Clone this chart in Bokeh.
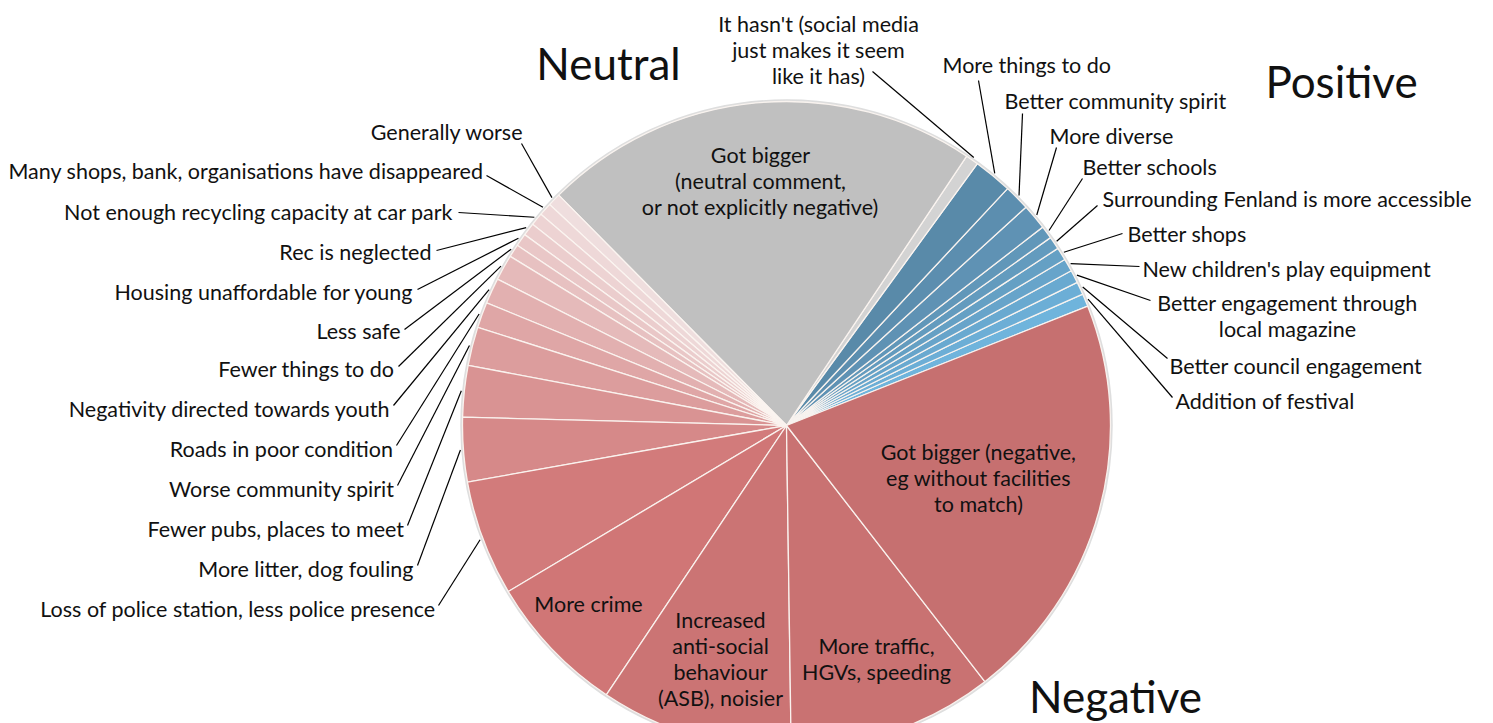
import numpy as np
from bokeh.plotting import figure
from bokeh.models import Range1d, ColumnDataSource
from bokeh.core.properties import value
from bokeh.embed import file_html
from bokeh.resources import INLINE

# ---------------- data (anticlockwise order from the blue/red boundary) ----------------
categories = [
    "Addition of festival",
    "Better council engagement",
    "Better engagement through\nlocal magazine",
    "New children's play equipment",
    "Better shops",
    "Surrounding Fenland is more accessible",
    "Better schools",
    "More diverse",
    "Better community spirit",
    "More things to do",
    "It hasn't (social media\njust makes it seem\nlike it has)",
    "Got bigger\n(neutral comment,\nor not explicitly negative)",
    "Generally worse",
    "Many shops, bank, organisations have disappeared",
    "Not enough recycling capacity at car park",
    "Rec is neglected",
    "Housing unaffordable for young",
    "Less safe",
    "Fewer things to do",
    "Negativity directed towards youth",
    "Roads in poor condition",
    "Worse community spirit",
    "Fewer pubs, places to meet",
    "More litter, dog fouling",
    "Loss of police station, less police presence",
    "More crime",
    "Increased\nanti-social\nbehaviour\n(ASB), noisier",
    "More traffic,\nHGVs, speeding",
    "Got bigger (negative,\neg without facilities\nto match)",
]
counts = [1, 1, 1, 1, 1, 1, 1, 2, 2, 3,
          1, 34,
          1, 1, 1, 1, 1, 1, 2, 2, 2, 3, 4, 5, 9, 11, 15, 16, 32]
sentiment = ["Positive"] * 10 + ["Neutral"] * 2 + ["Negative"] * 17
group_titles = ["Neutral", "Positive", "Negative"]

# ---------------- styles / layout ----------------
colors = [
    "#6fb4dc", "#6caed6", "#69a9d0", "#67a4ca", "#65a0c4",
    "#639bbe", "#6197b9", "#5f92b4", "#5c8eaf", "#598aa9",
    "#d3d3d3", "#c0c0c0",
    "#efdede", "#eed8d8", "#edd3d3", "#ebcdcd", "#e9c7c7", "#e7c1c1",
    "#e5baba", "#e2b0b0", "#dfa6a6", "#dc9d9d", "#d99393", "#d68989",
    "#d27b7b", "#d07676", "#cb7474", "#c97272", "#c67070",
]
CX, CY, R = 786, 425, 324          # pixel coords of the pie
START_DEG = 21.6                    # angle of the first slice boundary
FONT = value("Lato")
LBL = "21.5px"
LH = 1.0

# outside labels: text x, text y, align, leader start x, leader start y (pixel coords)
outside = {
    "Addition of festival": (1175, 400, "left", 1172, 397),
    "Better council engagement": (1169, 365, "left", 1167, 358),
    "Better engagement through\nlocal magazine": (1287, 315, "center", 1150, 300),
    "New children's play equipment": (1142, 268, "left", 1139, 266),
    "Better shops": (1127, 233, "left", 1122, 233),
    "Surrounding Fenland is more accessible": (1102, 198, "left", 1097, 205),
    "Better schools": (1082, 166, "left", 1082, 178),
    "More diverse": (1049, 135, "left", 1056, 147),
    "Better community spirit": (1004, 100, "left", 1022, 113),
    "More things to do": (942, 64, "left", 978, 80),
    "It hasn't (social media\njust makes it seem\nlike it has)": (818, 49, "center", 872, 71),
    "Generally worse": (523, 131, "right", 521, 143),
    "Many shops, bank, organisations have disappeared": (483, 170, "right", 486, 175),
    "Not enough recycling capacity at car park": (453, 211, "right", 458, 212),
    "Rec is neglected": (431, 251, "right", 436, 250),
    "Housing unaffordable for young": (413, 291, "right", 417, 289),
    "Less safe": (400, 330, "right", 404, 329),
    "Fewer things to do": (394, 368, "right", 398, 366),
    "Negativity directed towards youth": (390, 408, "right", 393, 405),
    "Roads in poor condition": (393, 448, "right", 396, 445),
    "Worse community spirit": (394, 488, "right", 397, 485),
    "Fewer pubs, places to meet": (404, 528, "right", 407, 525),
    "More litter, dog fouling": (413, 568, "right", 417, 565),
    "Loss of police station, less police presence": (435, 608, "right", 438, 605),
}
inside = {
    "Got bigger\n(neutral comment,\nor not explicitly negative)": (760, 180),
    "Got bigger (negative,\neg without facilities\nto match)": (978, 477),
    "More traffic,\nHGVs, speeding": (876, 658),
    "Increased\nanti-social\nbehaviour\n(ASB), noisier": (720, 658),
    "More crime": (588, 603),
}
titles_pos = {"Neutral": (608, 62), "Positive": (1341, 80), "Negative": (1115, 695)}

# ---------------- geometry from the data ----------------
total = sum(counts)
frac = np.array(counts, dtype=float) / total
ends = np.cumsum(frac) * 2 * np.pi + np.radians(START_DEG)
starts = ends - frac * 2 * np.pi
mids = (starts + ends) / 2

W, H = 1493, 723
p = figure(width=W, height=H, x_range=Range1d(0, W), y_range=Range1d(-H, 0),
           output_backend="svg", toolbar_location=None, min_border=0)
p.axis.visible = False
p.grid.visible = False
p.outline_line_color = None
p.background_fill_color = "white"
p.border_fill_color = "white"

src = ColumnDataSource(dict(start=starts, end=ends, color=colors, cat=categories))
p.circle(x=[CX], y=[-CY], radius=R + 1, fill_color=None, line_color="#dedede", line_width=2.5)
p.wedge(x=CX, y=-CY, radius=R, start_angle="start", end_angle="end", source=src,
        fill_color="color", line_color="#fbf4f0", line_width=1.3, line_alpha=0.95)

# leader lines and outside labels
lx0, ly0, lx1, ly1 = [], [], [], []
groups = {"left": ([], [], []), "right": ([], [], []), "center": ([], [], [])}
for cat, m in zip(categories, mids):
    if cat in outside:
        tx, ty, al, sx, sy = outside[cat]
        ex = CX + (R + 3) * np.cos(m)
        ey = CY - (R + 3) * np.sin(m)
        lx0.append(sx); ly0.append(-sy); lx1.append(ex); ly1.append(-ey)
        groups[al][0].append(tx); groups[al][1].append(-ty); groups[al][2].append(cat)
p.segment(x0=lx0, y0=ly0, x1=lx1, y1=ly1, line_color="black", line_width=1.2)
for al, (xs, ys, ts) in groups.items():
    if xs:
        p.text(x=xs, y=ys, text=ts, text_align=al, text_baseline="middle",
               text_font=FONT, text_font_size=LBL, text_color="#111111",
               text_line_height=LH)

ix = [inside[c][0] for c in categories if c in inside]
iy = [-inside[c][1] for c in categories if c in inside]
it = [c for c in categories if c in inside]
p.text(x=ix, y=iy, text=it, text_align="center", text_baseline="middle",
       text_font=FONT, text_font_size=LBL, text_color="#111111", text_line_height=LH)

p.text(x=[titles_pos[t][0] for t in group_titles], y=[-titles_pos[t][1] for t in group_titles],
       text=group_titles, text_align="center", text_baseline="middle",
       text_font=FONT, text_font_size="44px", text_color="#111111")

open("out.html", "w").write(file_html(p, INLINE))
